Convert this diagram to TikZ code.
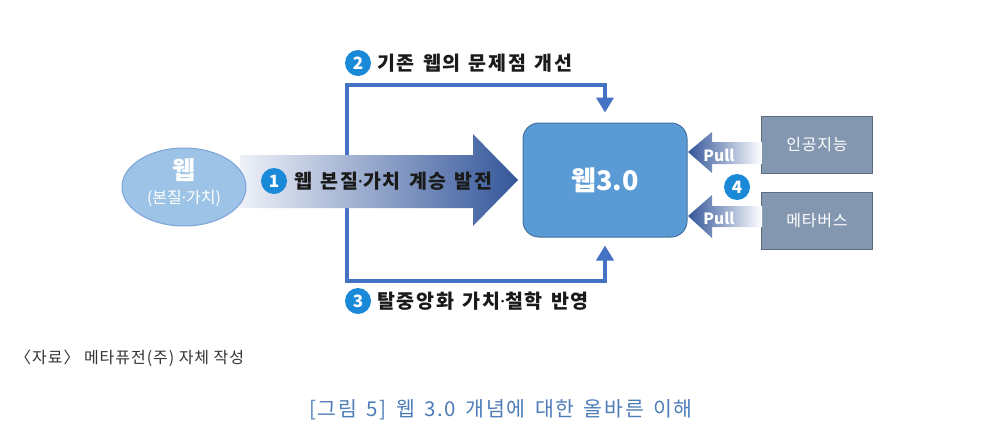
\documentclass[tikz,border=0pt]{standalone}
\usepackage{fontspec}
\setmainfont{Noto Sans CJK KR}
\newfontfamily\latinf{Noto Sans}
\newcommand\mdot{{\latinf ·}}
\newcommand\widesp[1]{\spaceskip=#1em\relax}
\usetikzlibrary{arrows.meta,calc,shapes.geometric}
\definecolor{lineblue}{HTML}{4472C4}
\definecolor{ellfill}{HTML}{9DC3E6}
\definecolor{elldraw}{HTML}{7DA3D8}
\definecolor{boxfill}{HTML}{5B9BD5}
\definecolor{boxdraw}{HTML}{41719C}
\definecolor{grayfill}{HTML}{8497B0}
\definecolor{graydraw}{HTML}{5C6B80}
\definecolor{numblue}{HTML}{1A8AD8}
\definecolor{arrdark}{HTML}{34569A}
\definecolor{arrmid}{HTML}{9AB0DE}
\definecolor{pullmid}{HTML}{B4C3E6}
\definecolor{arrlight}{HTML}{EEF1F8}
\definecolor{captblue}{HTML}{4E7DB8}
\definecolor{txtdark}{HTML}{1A1A1A}
\tikzset{
  conn/.style={draw=lineblue, line width=4pt, -{Triangle[length=15pt,width=17pt]}},
  numc/.style={circle, fill=numblue, text=white, font=\bfseries\fontsize{17}{17}\selectfont, minimum size=26pt, inner sep=0pt},
  lbl/.style={anchor=west, text=txtdark, font={\bfseries\fontsize{19.5}{20}\selectfont\addfontfeature{LetterSpace=9}\widesp{0.42}}, inner sep=0pt},
  graybox/.style={draw=graydraw, line width=1.5pt, fill=grayfill, minimum width=111pt, minimum height=57pt, text=white, font={\fontsize{16}{16}\selectfont\addfontfeature{LetterSpace=5}}, inner sep=0pt},
  pulltxt/.style={text=white, font=\bfseries\fontsize{15.5}{15}\selectfont, inner sep=0pt},
  pullarrow/.style={left color=arrdark, middle color=pullmid, right color=white}
}
\begin{document}
\begin{tikzpicture}[x=1pt,y=-1pt]
\useasboundingbox[fill=white] (0,0) rectangle (990,437);
% main box
\node[draw=boxdraw, line width=1pt, fill=boxfill, rounded corners=16pt, minimum width=164pt, minimum height=114pt, inner sep=0pt, text=white, font=\bfseries\fontsize{27}{27}\selectfont] (w3) at (605,180) {웹3.0};
\coordinate (split) at (347,181);
% connectors 2 and 3
\draw[conn] (split) |- ($(w3.north)+(0,-38)$) -- ($(w3.north)+(0,-10)$);
\draw[conn] (split) |- ($(w3.south)+(0,43)$) -- ($(w3.south)+(0,8)$);
% big arrow
\shade[left color=arrlight, middle color=arrmid, right color=arrdark]
  (240,155) -- (473,155) -- (473,134) -- (518,180) -- (473,226) -- (473,208) -- (240,208) -- cycle;
% ellipse
\node[ellipse, draw=elldraw, line width=1pt, fill=ellfill, minimum width=124pt, minimum height=78pt, inner sep=0pt] (web) at (184,187) {};
\node[text=white, font=\bfseries\fontsize{25}{25}\selectfont, inner sep=0pt] (webt) at (184,170) {웹};
\node[text=white, font=\fontsize{16}{16}\selectfont, inner sep=0pt] (webs) at (184,198) {(본질\mdot 가치)};
% labels
\node[numc] (n1) at (274,181) {1};
\node[lbl] (l1) at (294,181) {웹 본질\mdot 가치 계승 발전};
\node[numc] (n2) at (358,63) {2};
\node[lbl] (l2) at (377,63) {기존 웹의 문제점 개선};
\node[numc] (n3) at (358,301) {3};
\node[lbl] (l3) at (377,301) {탈중앙화 가치\mdot 철학 반영};
% gray boxes
\node[graybox] (ai) at (817,145) {인공지능};
\node[graybox] (mv) at (817,221) {메타버스};
% pull arrows
\shade[pullarrow]
  (762,142) -- (712,142) -- (712,132) -- (688,152) -- (712,173) -- (712,164) -- (762,164) -- cycle;
\shade[pullarrow]
  (762,206) -- (712,206) -- (712,195) -- (688,216) -- (712,238) -- (712,227) -- (762,227) -- cycle;
\node[pulltxt] (p1) at (719,155) {Pull};
\node[pulltxt] (p2) at (719,218) {Pull};
\node[numc] (n4) at (737,187) {4};
% footer
\node[anchor=west, text=black!80, font={\fontsize{16}{16}\selectfont\addfontfeature{LetterSpace=6}}, inner sep=0pt] (src) at (15,358) {〈자료〉 메타퓨전(주) 자체 작성};
\node[text=captblue, font={\fontsize{20.5}{20}\selectfont\addfontfeature{LetterSpace=9}\widesp{0.45}}, inner sep=0pt] (cap) at (501,410) {[그림 5] 웹 3.0 개념에 대한 올바른 이해};
\end{tikzpicture}
\end{document}
